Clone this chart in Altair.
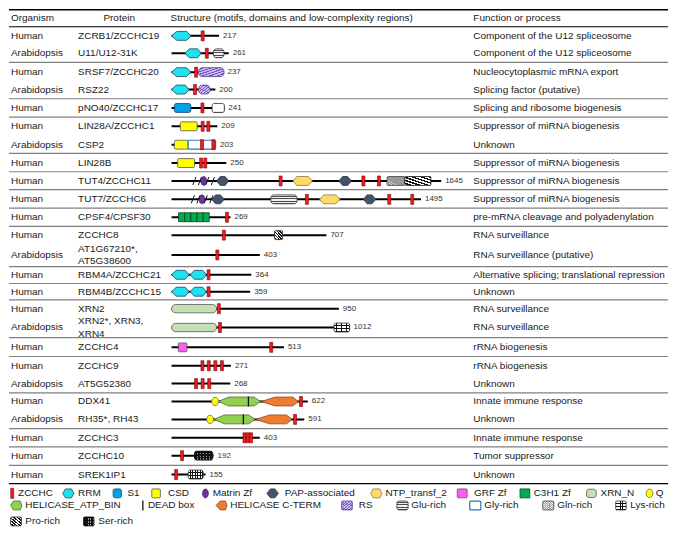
import altair as alt
import pandas as pd

# ---------------- table content ----------------
IDS = ["ZCRB1", "U11", "SRSF7", "RSZ22", "pNO40", "LIN28A", "CSP2", "LIN28B", "TUT4", "TUT7",
       "CPSF4", "ZCCHC8", "AT1G67210", "RBM4A", "RBM4B", "XRN2", "XRN2s", "ZCCHC4", "ZCCHC9",
       "AT5G52380", "DDX41", "RH35", "ZCCHC3", "ZCCHC10", "SREK1IP1"]
ORGANISMS = ["Human", "Arabidopsis", "Human", "Arabidopsis", "Human", "Human", "Arabidopsis", "Human",
             "Human", "Human", "Human", "Human", "Arabidopsis", "Human", "Human", "Human", "Arabidopsis",
             "Human", "Human", "Arabidopsis", "Human", "Arabidopsis", "Human", "Human", "Human"]
PROTEINS = ["ZCRB1/ZCCHC19", "U11/U12-31K", "SRSF7/ZCCHC20", "RSZ22", "pNO40/ZCCHC17", "LIN28A/ZCCHC1",
            "CSP2", "LIN28B", "TUT4/ZCCHC11", "TUT7/ZCCHC6", "CPSF4/CPSF30", "ZCCHC8",
            "AT1G67210*,\nAT5G38600", "RBM4A/ZCCHC21", "RBM4B/ZCCHC15", "XRN2", "XRN2*, XRN3,\nXRN4",
            "ZCCHC4", "ZCCHC9", "AT5G52380", "DDX41", "RH35*, RH43", "ZCCHC3", "ZCCHC10", "SREK1IP1"]
FUNCTIONS = ["Component of the U12 spliceosome", "Component of the U12 spliceosome",
             "Nucleocytoplasmic mRNA export", "Splicing factor (putative)", "Splicing and ribosome biogenesis",
             "Suppressor of miRNA biogenesis", "Unknown", "Suppressor of miRNA biogenesis",
             "Suppressor of miRNA biogenesis", "Suppressor of miRNA biogenesis",
             "pre-mRNA cleavage and polyadenylation", "RNA surveillance", "RNA surveillance (putative)",
             "Alternative splicing; translational repression", "Unknown", "RNA surveillance",
             "RNA surveillance", "rRNA biogenesis", "rRNA biogenesis", "Unknown", "Innate immune response",
             "Unknown", "Innate immune response", "Tumor suppressor", "Unknown"]
LENGTHS = [217, 261, 237, 200, 241, 209, 203, 250, 1645, 1495, 269, 707, 403, 364, 359, 950, 1012,
           513, 271, 268, 622, 591, 403, 192, 155]
# proteins drawn shorter than scale in the figure (drawn length, aa units)
DRAWN_LENGTH = {"TUT4": 1231, "TUT7": 1139, "XRN2": 764, "XRN2s": 813, "RH35": 606}

HEADERS = ["Organism", "Protein", "Structure (motifs, domains and low-complexity regions)",
           "Function or process"]

# ---------------- structure features (aa positions) ----------------
DOMAINS = [
    ("ZCRB1", "RRM", 0, 89),
    ("U11", "RRM", 61, 135), ("U11", "Glu-rich", 191, 239),
    ("SRSF7", "RRM", 0, 88), ("SRSF7", "RS", 123, 240),
    ("RSZ22", "RRM", 0, 80), ("RSZ22", "RS", 123, 176),
    ("pNO40", "S1", 13, 88), ("pNO40", "Lys-rich", 185, 241),
    ("LIN28A", "CSD", 40, 117),
    ("CSP2", "CSD", 13, 76), ("CSP2", "Gly-rich", 76, 201),
    ("LIN28B", "CSD", 28, 105),
    ("TUT4", "PAP-associated", 206, 261), ("TUT4", "NTP_transf_2", 554, 643),
    ("TUT4", "PAP-associated", 764, 821), ("TUT4", "Gln-rich", 984, 1065), ("TUT4", "Pro-rich", 1065, 1184),
    ("TUT7", "PAP-associated", 184, 240), ("TUT7", "Glu-rich", 453, 573), ("TUT7", "NTP_transf_2", 676, 769),
    ("TUT7", "PAP-associated", 876, 932),
    ("CPSF4", "C3H1 Zf", 32, 60), ("CPSF4", "C3H1 Zf", 60, 88), ("CPSF4", "C3H1 Zf", 88, 116),
    ("CPSF4", "C3H1 Zf", 116, 144), ("CPSF4", "C3H1 Zf", 144, 172),
    ("ZCCHC8", "Pro-rich", 470, 507),
    ("RBM4A", "RRM", 0, 80), ("RBM4A", "RRM", 84, 159),
    ("RBM4B", "RRM", 0, 80), ("RBM4B", "RRM", 84, 159),
    ("XRN2", "XRN_N", 0, 206),
    ("XRN2s", "XRN_N", 0, 206), ("XRN2s", "Lys-rich", 742, 813),
    ("ZCCHC4", "GRF Zf", 31, 70),
    ("DDX41", "HELICASE_ATP_BIN", 213, 406), ("DDX41", "HELICASE C-TERM", 409, 579),
    ("RH35", "HELICASE_ATP_BIN", 194, 381), ("RH35", "HELICASE C-TERM", 384, 550),
    ("ZCCHC10", "Ser-rich", 105, 188),
    ("SREK1IP1", "Lys-rich", 76, 144),
]
ZCCHC_SITES = [
    ("ZCRB1", 142), ("U11", 161), ("SRSF7", 112), ("RSZ22", 107), ("pNO40", 141),
    ("LIN28A", 142), ("LIN28A", 168), ("CSP2", 139), ("CSP2", 191), ("LIN28B", 135), ("LIN28B", 154),
    ("TUT4", 498), ("TUT4", 876), ("TUT4", 947), ("TUT7", 618), ("TUT7", 994), ("TUT7", 1099),
    ("CPSF4", 253), ("ZCCHC8", 239), ("AT1G67210", 209), ("RBM4A", 169), ("RBM4B", 169),
    ("XRN2", 216), ("XRN2s", 221), ("ZCCHC4", 455),
    ("ZCCHC9", 141), ("ZCCHC9", 170), ("ZCCHC9", 200), ("ZCCHC9", 230),
    ("AT5G52380", 112), ("AT5G52380", 142), ("AT5G52380", 172),
    ("DDX41", 591), ("RH35", 564), ("ZCCHC3", 333), ("ZCCHC3", 348), ("ZCCHC3", 363),
    ("ZCCHC10", 48), ("SREK1IP1", 21),
]
MATRIN_SITES = [("TUT4", 147), ("TUT7", 139)]
Q_SITES = [("DDX41", 199), ("RH35", 176)]
DEAD_SITES = [("DDX41", 351), ("RH35", 328)]
BREAK_SITES = [("TUT4", 117), ("TUT4", 176), ("TUT7", 110), ("TUT7", 169)]

# ---------------- legend ----------------
LEGEND_TYPES = ["ZCCHC", "RRM", "S1", "CSD", "Matrin Zf", "PAP-associated", "NTP_transf_2", "GRF Zf",
                "C3H1 Zf", "XRN_N", "Q", "HELICASE_ATP_BIN", "DEAD box", "HELICASE C-TERM", "RS",
                "Glu-rich", "Gly-rich", "Gln-rich", "Lys-rich", "Pro-rich", "Ser-rich"]

# ---------------- layout (reference pixel units) ----------------
ROW_Y = [28, 46, 65.5, 83.5, 102.5, 121.5, 140.5, 159.5, 178, 197, 215.5, 234, 254.5, 275, 292.5,
         310, 329.5, 350, 369, 387.5, 406, 424.5, 443.5, 462, 481.5]
LINE_STEP = 13
HEADER_Y = 10
HEADER_X = [2, 97, 166, 477]
COL_X = {"organism": 2, "protein": 71, "function": 477}
SEP_Y = [1, 18.5, 55.5, 93, 112, 149.5, 168.5, 187, 206, 225, 266.5, 284, 301, 340, 359.5, 397,
         434, 453, 472, 491]
SEP_COLOR = ["#000000", "#000000"] + ["#808080"] * 17 + ["#000000"]
SEP_WIDTH = [1.6, 1.1] + [1.2] * 17 + [1.2]
LEGEND_ROW_Y = [501, 501, 501, 501, 501, 501, 501, 501, 501, 501, 501,
                513.5, 513.5, 513.5, 513.5, 513.5, 513.5, 513.5, 513.5, 530, 530]
LEGEND_X0 = [3.3, 55, 107, 146.7, 201.8, 265, 371.7, 460.5, 525, 593.3, 658,
             1.7, 137.5, 212.7, 341.7, 398.5, 473.3, 548.3, 623.3, 1.7, 76.7]
LEGEND_X1 = [3.3, 66.7, 115.5, 155.5, 201.8, 276.7, 383.3, 470.7, 535, 603.3, 658,
             13.3, 137.5, 224, 352.7, 410, 484.7, 559.7, 634, 12.7, 87.3]
LEGEND_LABEL_X = [9.3, 71, 121.7, 163.3, 209.3, 283.3, 386.7, 477.7, 539, 607.7, 664.3,
                  16.7, 142.7, 227.3, 359.3, 413.3, 488.3, 563.3, 638.3, 16.7, 91.7]

W, H = 661, 521
FONT = "Liberation Sans"
XT = alt.Scale(domain=[0, 677], nice=False, zero=False)            # table columns
XS = alt.Scale(domain=[-742.2, 2266.7], nice=False, zero=False)    # amino-acid positions
YS = alt.Scale(domain=[0, 537], reverse=True, nice=False, zero=False)


def stripes(c1, c2, n, frac, x1, y1, x2, y2):
    stops = []
    for i in range(n):
        a, b, c = i / n, (i + frac) / n, (i + 1) / n
        stops += [alt.GradientStop(offset=a, color=c1), alt.GradientStop(offset=b, color=c1),
                  alt.GradientStop(offset=b, color=c2), alt.GradientStop(offset=c, color=c2)]
    return alt.LinearGradient(gradient="linear", stops=stops, x1=x1, y1=y1, x2=x2, y2=y2)


RECT_PATH = "M-0.3,-1L0.3,-1L0.3,1L-0.3,1Z"
ELLIPSE_PATH = "M0,-1.5A1,1.5 0 1,1 0,1.5A1,1.5 0 1,1 0,-1.5Z"
STYLE = {
    "RRM": dict(kind="hex", fill="#1ee3ef", stroke="#1c3f63", h=4.6, tl=.27, tr=.22),
    "PAP-associated": dict(kind="hex", fill="#44546a", stroke="#2a3444", h=4.6, tl=.3, tr=.3),
    "NTP_transf_2": dict(kind="hex", fill="#ffd966", stroke="#8a7a45", h=4.6, tl=.2, tr=.2),
    "HELICASE_ATP_BIN": dict(kind="hex", fill="#92d050", stroke="#4b6b35", h=4.6, tl=.25, tr=.15),
    "HELICASE C-TERM": dict(kind="hex", fill="#ed7d31", stroke="#8a4a1c", h=4.6, tl=.38, tr=.15),
    "S1": dict(kind="rect", fill="#00a2e6", stroke="#1c3f63", h=4.6, r=2),
    "CSD": dict(kind="rect", fill="#ffff00", stroke="#555555", h=4.6, r=1),
    "GRF Zf": dict(kind="rect", fill="#ff5cf4", stroke="#555555", h=4.6, r=1),
    "C3H1 Zf": dict(kind="rect", fill="#00b050", stroke="#0d3b1f", h=4.6, r=0),
    "XRN_N": dict(kind="rect", fill="#c5e0b4", stroke="#555555", h=4.3, r=5),
    "Gly-rich": dict(kind="rect", fill="#ffffff", stroke="#2e75b6", h=4.6, r=1, sw=1.2),
    "RS": dict(kind="rect", fill=stripes("#cbbcf0", "#7a5bc6", 7, .55, 0, 0, 1, 1), stroke="#5a3b96", h=4.6, r=4),
    "Glu-rich": dict(kind="rect", fill=stripes("#f0f0f0", "#4a4a4a", 4, .55, 0, 0, 0, 1), stroke="#333333", h=4.6, r=3),
    "Gln-rich": dict(kind="rect", fill=stripes("#f4f4f4", "#9a9a9a", 9, .5, 0, 0, 1, 1), stroke="#444444", h=4.6, r=1,
                     overlay=stripes("transparent", "#9a9a9a", 9, .6, 0, 1, 1, 0)),
    "Pro-rich": dict(kind="rect", fill=stripes("#ffffff", "#111111", 6, .5, 0, 1, 1, 0), stroke="#222222", h=4.6, r=1),
    "Lys-rich": dict(kind="rect", fill=stripes("#ffffff", "#111111", 6, .72, 0, 0, 1, 0), stroke="#333333", h=4.6, r=2,
                     overlay=stripes("transparent", "#111111", 3, .72, 0, 0, 0, 1)),
    "Ser-rich": dict(kind="rect", fill=stripes("#111111", "#9a9a9a", 6, .7, 0, 0, 1, 0), stroke="#000000", h=4.6, r=2,
                     overlay=stripes("#111111", "transparent", 3, .45, 0, 0, 0, 1)),
    "ZCCHC": dict(kind="sym", shape=RECT_PATH, size=100, filled=True, fill="#ee1c25", stroke="#7a0000", sw=0.6),
    "Matrin Zf": dict(kind="sym", shape=ELLIPSE_PATH, size=36, filled=True, fill="#7030a0", stroke="#3b1a5a", sw=0.6),
    "Q": dict(kind="sym", shape="M0,-1.2A1,1.2 0 1,1 0,1.2A1,1.2 0 1,1 0,-1.2Z", size=49, filled=True,
              fill="#ffff00", stroke="#555555", sw=0.7),
    "DEAD box": dict(kind="sym", shape="M0,-1L0,1", size=100, filled=False, fill="none", stroke="#111111", sw=1.3),
    "break": dict(kind="sym", shape="M-1.1,1L-0.3,-1M0.3,1L1.1,-1", size=64, filled=False, fill="none",
                  stroke="#111111", sw=1.0),
}


def shape_layers(df, xscale, radius_override=None):
    radius_override = radius_override or {}
    out = []
    for t, st in STYLE.items():
        d = df[df["type"] == t]
        if d.empty:
            continue
        kind = st["kind"]
        if kind == "rect":
            r = radius_override.get(t, st.get("r", 0))
            dd = d.assign(ya=d["y"] - st["h"], yb=d["y"] + st["h"])
            enc = dict(x=alt.X("x0:Q", scale=xscale, axis=None), x2=alt.X2("x1:Q"),
                       y=alt.Y("ya:Q", scale=YS, axis=None), y2=alt.Y2("yb:Q"))
            base = alt.Chart(dd)
            if "overlay" in st:
                out.append(base.mark_rect(fill=st["fill"], strokeWidth=0, cornerRadius=r).encode(**enc))
                out.append(base.mark_rect(fill=st["overlay"], strokeWidth=0, cornerRadius=r).encode(**enc))
                out.append(base.mark_rect(fill="white", fillOpacity=0, stroke=st["stroke"],
                                          strokeWidth=st.get("sw", 0.8), cornerRadius=r).encode(**enc))
            else:
                out.append(base.mark_rect(fill=st["fill"], stroke=st["stroke"], strokeWidth=st.get("sw", 0.8),
                                          cornerRadius=r).encode(**enc))
        elif kind == "hex":
            pts = []
            for i, row in enumerate(d.itertuples(index=False)):
                w = row.x1 - row.x0
                corners = [(row.x0, 0), (row.x0 + st["tl"] * w, st["h"]),
                           (row.x1 - st["tr"] * w, st["h"]), (row.x1, 0)]
                for k, (xx, hh) in enumerate(corners):
                    pts.append(dict(id=i, k=k, x=xx, ya=row.y - hh, yb=row.y + hh))
            out.append(alt.Chart(pd.DataFrame(pts)).mark_area(
                fill=st["fill"], stroke=st["stroke"], strokeWidth=0.8, opacity=1, fillOpacity=1,
                orient="vertical", interpolate="linear").encode(
                x=alt.X("x:Q", scale=xscale, axis=None),
                y=alt.Y("ya:Q", scale=YS, axis=None, stack=None), y2=alt.Y2("yb:Q"),
                detail="id:N"))
        else:
            out.append(alt.Chart(d).mark_point(
                shape=st["shape"], size=st["size"], filled=st["filled"], fill=st["fill"], stroke=st["stroke"],
                strokeWidth=st["sw"], opacity=1).encode(
                x=alt.X("x0:Q", scale=xscale, axis=None), y=alt.Y("y:Q", scale=YS, axis=None)))
    return out


# ---------------- build tables ----------------
row_of = {pid: i for i, pid in enumerate(IDS)}
drawn_end = [DRAWN_LENGTH.get(pid, L) for pid, L in zip(IDS, LENGTHS)]


def cell(x, y, text):
    lines = text.split("\n")
    n = len(lines)
    return [dict(x=x, y=y + (j - (n - 1) / 2) * LINE_STEP, text=ln) for j, ln in enumerate(lines)]


text_rows = []
for x, t in zip(HEADER_X, HEADERS):
    text_rows += cell(x, HEADER_Y, t)
for i in range(len(IDS)):
    text_rows += cell(COL_X["organism"], ROW_Y[i], ORGANISMS[i])
    text_rows += cell(COL_X["protein"], ROW_Y[i], PROTEINS[i])
    text_rows += cell(COL_X["function"], ROW_Y[i], FUNCTIONS[i])
for t, lx, ly in zip(LEGEND_TYPES, LEGEND_LABEL_X, LEGEND_ROW_Y):
    text_rows += cell(lx, ly, t)
text_df = pd.DataFrame(text_rows)

sep_df = pd.DataFrame(dict(y=SEP_Y, c=SEP_COLOR, w=SEP_WIDTH, x0=[0] * len(SEP_Y), x1=[677] * len(SEP_Y)))

backbone_df = pd.DataFrame(dict(id=IDS, y=ROW_Y, x0=[0] * len(IDS), x1=drawn_end, length=LENGTHS))

feat_rows = [dict(type=t, x0=s, x1=e, y=ROW_Y[row_of[p]]) for p, t, s, e in DOMAINS]
for t, sites in [("ZCCHC", ZCCHC_SITES), ("Matrin Zf", MATRIN_SITES), ("Q", Q_SITES),
                 ("DEAD box", DEAD_SITES), ("break", BREAK_SITES)]:
    feat_rows += [dict(type=t, x0=pos, x1=pos, y=ROW_Y[row_of[p]]) for p, pos in sites]
feat_df = pd.DataFrame(feat_rows)

legend_df = pd.DataFrame(dict(type=LEGEND_TYPES, x0=LEGEND_X0, x1=LEGEND_X1, y=LEGEND_ROW_Y))

# ---------------- layers ----------------
separators = alt.Chart(sep_df).mark_rule().encode(
    x=alt.X("x0:Q", scale=XT, axis=None), x2="x1:Q", y=alt.Y("y:Q", scale=YS, axis=None),
    color=alt.Color("c:N", scale=None), strokeWidth=alt.StrokeWidth("w:Q", scale=None))

texts = alt.Chart(text_df).mark_text(
    align="left", baseline="middle", fontSize=10, color="#1a1a1a", font=FONT
).encode(x=alt.X("x:Q", scale=XT, axis=None), y=alt.Y("y:Q", scale=YS, axis=None), text="text:N")

table_layer = alt.layer(separators, texts, *shape_layers(
    legend_df, XT, {"XRN_N": 2.5, "RS": 1, "Glu-rich": 2, "Lys-rich": 1, "Ser-rich": 1}))

backbone = alt.Chart(backbone_df).mark_rule(color="#000000", strokeWidth=2).encode(
    x=alt.X("x0:Q", scale=XS, axis=None), x2="x1:Q", y=alt.Y("y:Q", scale=YS, axis=None))
length_labels = alt.Chart(backbone_df).mark_text(
    align="left", baseline="middle", dx=4, fontSize=8, color="#333333", font=FONT
).encode(x=alt.X("x1:Q", scale=XS, axis=None), y=alt.Y("y:Q", scale=YS, axis=None), text="length:Q")

struct_layer = alt.layer(backbone, *shape_layers(feat_df, XS), length_labels)

chart = alt.layer(table_layer, struct_layer).resolve_scale(x="independent").properties(
    width=W, height=H, padding=0, background="white"
).configure_view(stroke=None).configure_text(font=FONT)

chart.save("out.html", embed_options={"renderer": "svg", "actions": False})
